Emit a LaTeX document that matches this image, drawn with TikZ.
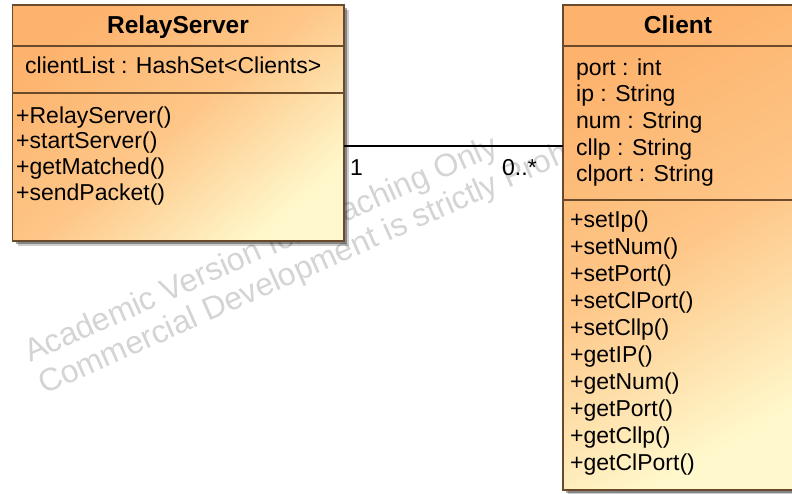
\documentclass[tikz,border=0pt]{standalone}
\usepackage{fontspec}
\setmainfont{Liberation Sans}
\usetikzlibrary{shadows}
\definecolor{boxorange}{HTML}{FDB36D}
\definecolor{boxyellow}{HTML}{FFF8CC}
\definecolor{boxline}{HTML}{6B4A2B}
\definecolor{wmgray}{HTML}{D4D4D4}
\begin{document}
\begin{tikzpicture}[x=1pt,y=-1pt,
  umlbox/.style={draw=boxline, line width=1.6pt, top color=boxorange, bottom color=boxyellow, middle color=boxorange!72!boxyellow, anchor=north west, inner sep=0pt, outer sep=0pt,
    drop shadow={shadow xshift=5pt, shadow yshift=-5pt, fill=black, opacity=0.2},
    drop shadow={shadow xshift=3pt, shadow yshift=-3pt, fill=black, opacity=0.35}},
  sepline/.style={draw=boxline, line width=1.6pt},
  umltitle/.style={font=\fontsize{24.5}{28}\selectfont\bfseries, anchor=base, inner sep=0pt},
  member/.style={font=\fontsize{23}{26}\selectfont, anchor=base west, inner sep=0pt},
  mult/.style={font=\fontsize{23}{26}\selectfont, anchor=base west, inner sep=0pt},
  watermark/.style={font=\fontsize{32}{32}\selectfont, text=wmgray, rotate=24, anchor=base west, inner sep=0pt},
  assoc/.style={draw=black, line width=1.3pt}
]
\useasboundingbox (0,0) rectangle (792,493);
\clip (0,0) rectangle (792,493);
\node[watermark] (wm1) at (30,363) {Academic Version for Teaching Only};
\node[watermark] (wm2) at (44,395) {Commercial Development is strictly Prohibited};
\node[umlbox, shading angle=40, minimum width=331.5pt, minimum height=236pt] (rs) at (12.5,5) {};
\node[umlbox, shading angle=30, minimum width=231pt, minimum height=485pt] (cl) at (563,5) {};
\draw[sepline] ([yshift=-41pt]rs.north west) -- ([yshift=-41pt]rs.north east);
\draw[sepline] ([yshift=-88pt]rs.north west) -- ([yshift=-88pt]rs.north east);
\draw[sepline] ([yshift=-41pt]cl.north west) -- ([yshift=-41pt]cl.north east);
\draw[sepline] ([yshift=-195pt]cl.north west) -- ([yshift=-195pt]cl.north east);
\node[umltitle] (rst) at (178,33) {RelayServer};
\node[member] (rsa1) at (25,73) {clientList : HashSet<Clients>};
\foreach \t [count=\i] in {+RelayServer(), +startServer(), +getMatched(), +sendPacket()}
  \node[member] (rsm\i) at (16,{123+25.7*(\i-1)}) {\t};
\node[umltitle] (clt) at (678,33) {Client};
\foreach \t [count=\i] in {port : int, ip : String, num : String, cllp : String, clport : String}
  \node[member] (cla\i) at (576,{75+26.7*(\i-1)}) {\t};
\foreach \t [count=\i] in {+setIp(), +setNum(), +setPort(), +setClPort(), +setCllp(), +getIP(), +getNum(), +getPort(), +getCllp(), +getClPort()}
  \node[member] (clm\i) at (570,{227+27*(\i-1)}) {\t};
\coordinate (ay) at (0,146);
\draw[assoc] (rs.east |- ay) -- (cl.west |- ay);
\node[mult] (m1) at (350,175) {1};
\node[mult] (m2) at (502,175) {0..*};
\end{tikzpicture}
\end{document}
